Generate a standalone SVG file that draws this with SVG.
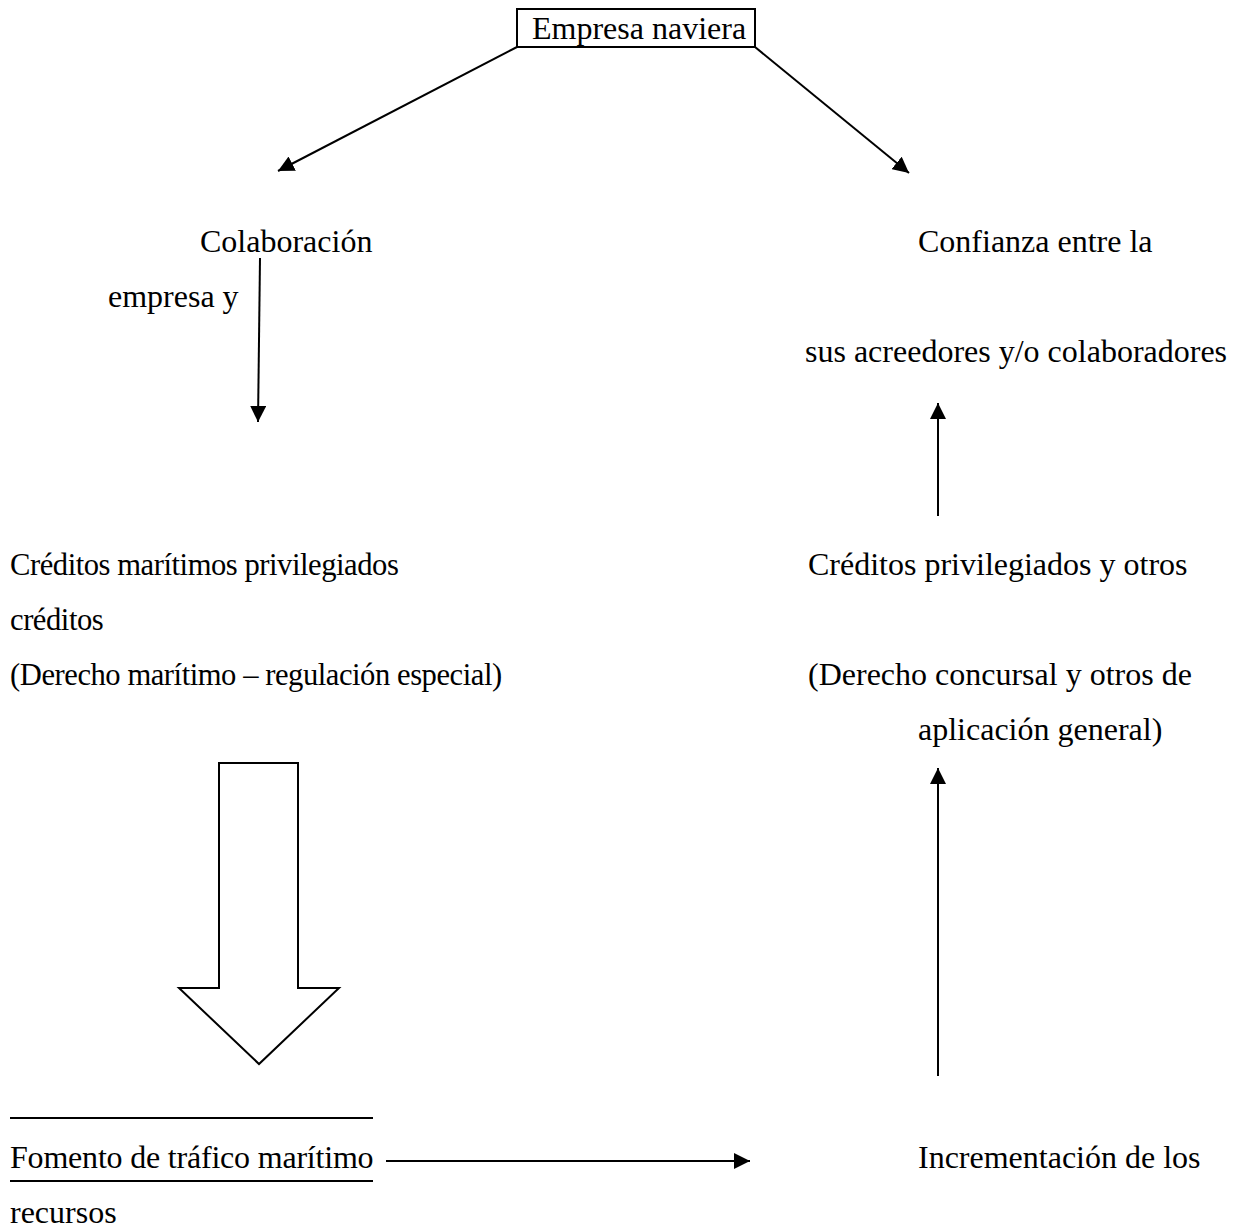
<svg xmlns="http://www.w3.org/2000/svg" width="1235" height="1228" viewBox="0 0 1235 1228">
<defs>
<marker id="ah" viewBox="0 0 10 10" refX="10" refY="5" markerWidth="16" markerHeight="16" markerUnits="userSpaceOnUse" orient="auto">
<path d="M0,0 L10,5 L0,10 z" fill="#000"/>
</marker>
<style>
text{font-family:"Liberation Serif","Times New Roman",serif;font-size:32px;fill:#000}
.s{font-size:30.6px;letter-spacing:-0.45px}
.c{stroke:#000;stroke-width:2;fill:none}
.a{marker-end:url(#ah)}
</style>
</defs>
<rect width="1235" height="1228" fill="#fff"/>
<g id="n-empresa"><rect x="517" y="9" width="238" height="38" class="c"/><text x="532" y="39">Empresa naviera</text></g>
<g id="n-colaboracion"><text x="200" y="252">Colaboración</text><text x="108" y="307">empresa y</text></g>
<g id="n-confianza"><text x="918" y="252">Confianza entre la</text><text x="805" y="362">sus acreedores y/o colaboradores</text></g>
<g id="n-creditos-mar"><text x="10" y="575" class="s">Créditos marítimos privilegiados</text><text x="10" y="630" class="s">créditos</text><text x="10" y="685" class="s">(Derecho marítimo – regulación especial)</text></g>
<g id="n-creditos-priv"><text x="808" y="575">Créditos privilegiados y otros</text><text x="808" y="685">(Derecho concursal y otros de</text><text x="918" y="740">aplicación general)</text></g>
<g id="n-fomento"><line x1="10" y1="1118" x2="373" y2="1118" class="c"/><text x="10" y="1168" style="letter-spacing:-0.2px">Fomento de tráfico marítimo</text><line x1="10" y1="1181" x2="373" y2="1181" class="c"/><text x="10" y="1223">recursos</text></g>
<g id="n-incrementacion"><text x="918" y="1168">Incrementación de los</text></g>
<g id="connectors">
<line x1="517" y1="47" x2="278" y2="171" class="c a"/>
<line x1="755" y1="47" x2="909" y2="173" class="c a"/>
<line x1="260" y1="258" x2="258" y2="422" class="c a"/>
<line x1="938" y1="516" x2="938" y2="403" class="c a"/>
<line x1="938" y1="1076" x2="938" y2="768" class="c a"/>
<line x1="386" y1="1161" x2="750" y2="1161" class="c a"/>
<path d="M219,763 L298,763 L298,988 L339,988 L259,1064 L179,988 L219,988 Z" class="c"/>
</g>
</svg>
